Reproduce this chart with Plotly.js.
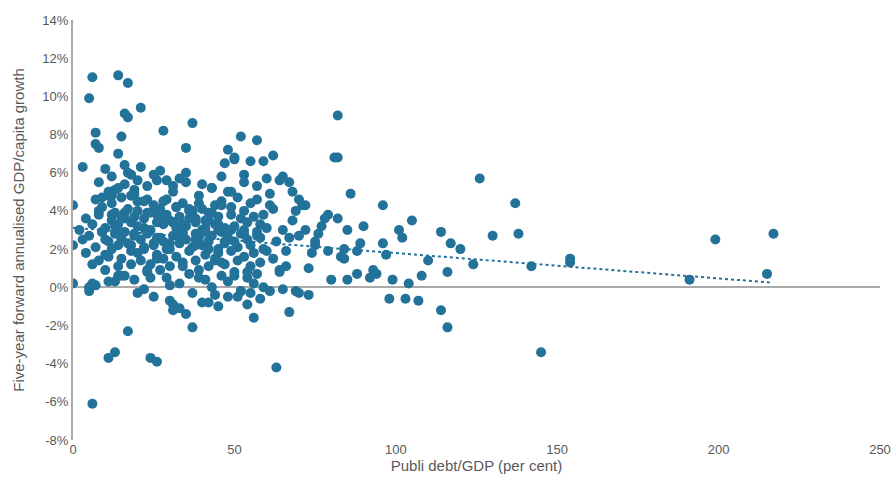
<!DOCTYPE html>
<html><head><meta charset="utf-8">
<script src="https://cdn.plot.ly/plotly-3.0.1.min.js"></script>
<style>body{margin:0}</style></head><body>
<div id="c" style="width:892px;height:488px"></div>
<script>
const debt = [0,0,0,3,5,6,5,5,6,7,7,8,11,13,14,16,17,17,17,15,21,24,26,28,29,35,37,37,47,50,56,59,63,67,82,81,82,86,96,98,105,103,107,114,116,117,120,124,126,130,137,138,142,145,154,154,191,199,215,217,114,116,110,108,101,102,96,97,94,89,88,90,85,84,84,85,82,79,77,76,74,72,70,71,68,69,67,66,64,61,60,60,
2,3,4,4,5,6,6,7,7,8,8,9,9,10,10,11,11,11,12,12,12,13,13,13,14,14,14,14,15,15,15,15,16,16,16,17,17,17,18,18,18,19,19,19,20,20,20,21,21,21,22,22,22,23,23,23,24,24,24,25,25,25,26,26,26,27,27,27,28,28,28,29,29,29,30,30,30,31,31,31,32,32,32,33,33,33,34,34,34,35,35,35,36,36,36,37,37,37,38,38,38,39,39,39,40,40,40,41,41,41,42,42,42,43,43,43,44,44,44,45,45,45,46,46,46,47,47,47,48,48,48,49,49,49,50,50,50,51,51,51,52,52,52,53,53,53,54,54,54,55,55,55,56,56,56,57,57,57,58,58,58,59,59,59,62,62,63,64,65,66,68,69,70,72,73,75,78,80,
9,10,12,13,14,15,16,18,19,20,22,23,25,26,27,29,30,31,33,34,36,38,39,41,42,44,45,47,48,50,52,53,55,57,60,62,65,67,16,18,20,12,14,10,8,25,27,31,33,35,40,43,46,49,53,57,61,64,13,11,9,19,23,28,32,37,42,45,51,54,58,
20,22,30,31,33,35,40,44,48,52,55,61,65,70,73,75,79,83,88,92,93,99,104,15,11,7,6,24,26,36,39,43,46,
8,12,16,19,23,27,31,34,38,41,45,49,53,57,10,14,18,22,26,30,34,38,42,46,50,54];
const growth = [4.3,2.2,0.2,6.3,9.9,11.0,-0.2,0,-6.1,7.5,8.1,7.3,-3.7,-3.4,11.1,9.1,8.9,10.7,-2.3,7.9,9.4,-3.7,-3.9,8.2,5.6,7.3,8.6,-2.1,6.5,6.7,-1.6,6.6,-4.2,-1.3,9.0,6.8,6.8,4.9,4.3,-0.6,3.5,-0.6,-0.7,-1.2,-2.1,2.3,2.0,1.2,5.7,2.7,4.4,2.8,1.1,-3.4,1.5,1.3,0.4,2.5,0.7,2.8,2.9,0.8,1.4,0.6,3.0,2.6,2.3,1.7,0.7,2.3,1.9,3.2,3.0,2.0,1.5,0.4,3.6,3.8,3.2,2.8,1.8,3.0,4.6,4.3,5.0,4.0,2.6,1.1,0.8,4.3,3.1,1.9,
3.0,2.5,3.6,1.8,2.7,3.3,1.2,4.6,2.1,3.8,1.4,2.9,4.2,0.9,3.1,2.4,5.0,1.6,3.5,2.0,4.4,0.3,2.8,3.9,5.2,1.1,3.3,2.2,4.7,2.6,1.5,3.7,5.4,2.9,0.6,4.1,2.3,6.0,1.9,3.4,4.8,2.7,0.4,5.1,1.8,3.2,4.0,2.5,6.3,1.4,3.6,2.0,4.5,0.8,2.8,5.3,1.2,3.0,3.9,2.2,4.3,-0.5,1.7,3.4,5.6,2.6,0.9,4.1,3.3,1.5,2.4,4.6,0.5,3.8,2.0,1.1,3.5,5.0,2.7,-0.9,3.1,4.2,1.6,2.3,3.7,0.2,2.9,4.4,1.3,3.2,2.5,5.5,1.9,0.7,3.6,2.1,4.0,-0.3,2.8,3.4,1.4,4.8,2.6,0.9,3.0,2.2,4.1,1.7,3.5,0.4,2.4,3.9,1.1,5.2,2.7,0.0,3.3,1.5,4.3,2.0,3.7,1.8,2.9,0.6,4.5,2.3,3.1,1.2,5.0,2.6,0.3,3.8,1.9,4.2,2.4,0.8,3.2,1.4,4.7,2.1,3.6,-0.2,2.8,4.0,1.6,3.0,0.5,2.5,3.4,1.1,4.4,2.2,0.2,3.7,1.8,2.9,0.7,4.6,2.6,1.3,3.3,0.0,2.0,3.8,1.5,4.1,2.4,0.9,3.0,1.9,3.5,-0.2,2.7,4.3,1.0,2.2,3.6,0.4,2.9,1.7,4.8,3.2,0.6,2.5,3.9,1.2,2.8,4.5,3.1,0.9,2.3,1.5,3.7,2.0,0.1,3.4,2.6,1.1,4.0,2.2,0.5,2.9,3.5,1.4,3.0,2.4,
7.2,6.8,7.9,5.9,6.6,7.7,5.7,6.9,5.8,5.5,6.4,5.9,5.6,5.8,7.0,6.2,5.5,5.9,6.1,5.3,5.7,6.0,5.4,5.2,5.8,5.0,5.5,5.3,4.9,5.6,5.1,4.8,4.7,4.9,4.6,4.5,4.2,4.0,-0.8,-1.0,-0.5,-0.9,-0.6,-0.3,-0.1,-0.7,-1.2,-1.1,-1.4,-0.8,-0.4,-0.5,-0.2,-0.3,-0.2,-0.1,-0.3,-0.4,2.4,1.9,1.6,0.7,0.5,0.9,0.4,0.2,0.6,0.3,0.1,0.2,0.5,
3.8,4.1,4.4,3.9,4.3,4.0,3.8,3.6,3.7,3.9,3.5,3.4,3.3,3.6,3.1,3.3,3.0,2.8,2.7,2.5,2.9,2.2,2.1,2.6,2.3,2.8,2.5,2.0,1.3,0.6,0.8,1.0,
2.6,3.1,2.8,3.3,2.5,2.9,3.2,2.7,3.0,2.4,2.8,2.6,3.1,2.3,3.4,2.2,3.0,2.7,2.5,3.2,2.9,2.4,2.6,2.8,2.1,2.5];
const trendX = [0,216], trendY = [3.12,0.25];
Plotly.newPlot('c',[
 {x:debt,y:growth,mode:'markers',type:'scatter',marker:{color:'#23729a',size:10},hoverinfo:'none'},
 {x:trendX,y:trendY,mode:'lines',line:{color:'#23729a',dash:'dot',width:2},hoverinfo:'none'}
],{
 width:892,height:488,showlegend:false,plot_bgcolor:'#fff',paper_bgcolor:'#fff',
 margin:{l:73,r:12,t:20,b:48},
 font:{family:'Liberation Sans, Arial',size:13,color:'#595959'},
 xaxis:{range:[0,250],tickvals:[0,50,100,150,200,250],showgrid:false,zeroline:false,showline:false,
   title:{text:'Publi debt/GDP (per cent)',font:{size:15,color:'#595959'},standoff:4},ticks:''},
 yaxis:{range:[-8,14],dtick:2,showgrid:false,zeroline:true,zerolinecolor:'#aaa',zerolinewidth:2,
   showline:true,linecolor:'#aaa',linewidth:2,ticks:'',
   title:{text:'Five-year forward annualised GDP/capita growth',font:{size:15,color:'#595959'},standoff:14},
   tickvals:[-8,-6,-4,-2,0,2,4,6,8,10,12,14],ticktext:['-8%','-6%','-4%','-2%','0%','2%','4%','6%','8%','10%','12%','14%']}
},{staticPlot:true});
</script></body></html>
